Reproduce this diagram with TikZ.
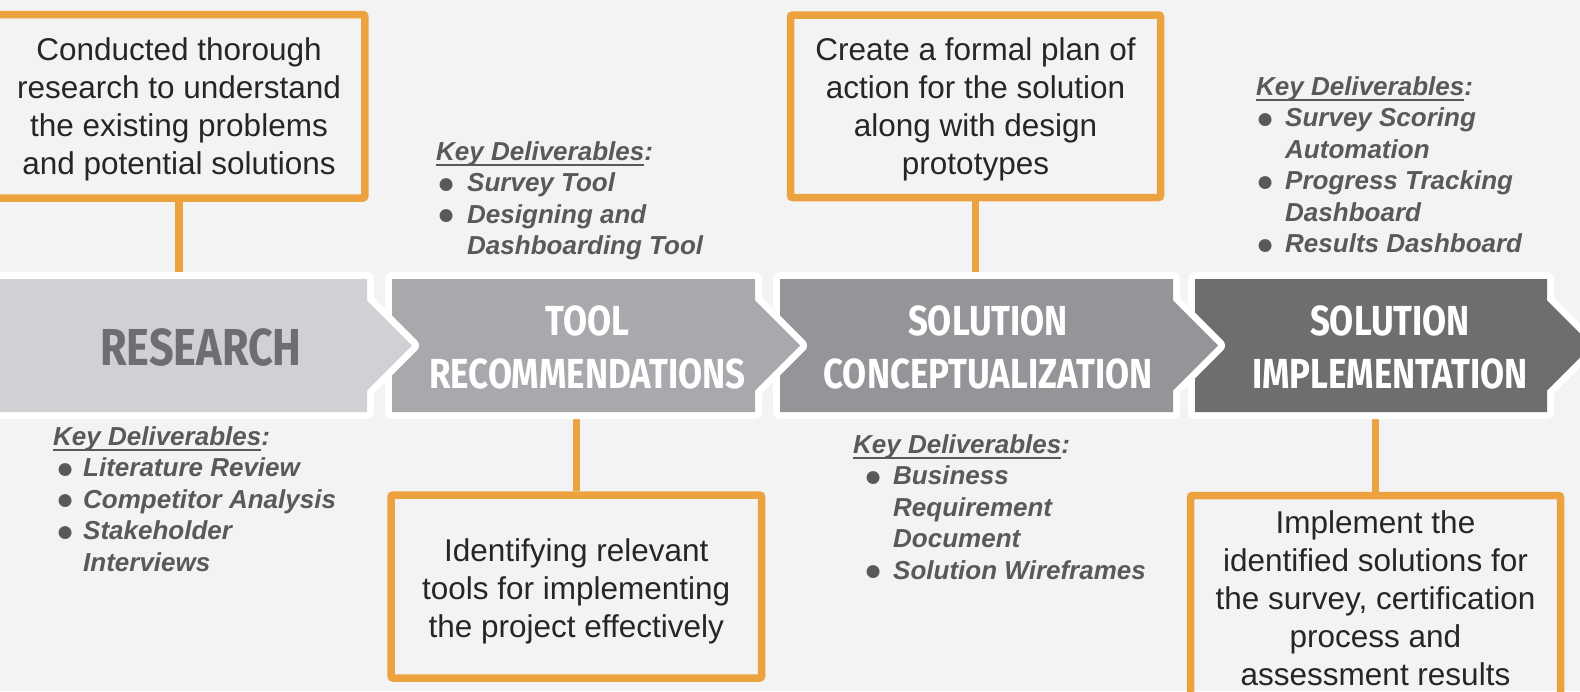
\documentclass[tikz,border=0pt]{standalone}
\usepackage{fontspec}
\setmainfont{Liberation Sans}
\newfontfamily\chevfont[FakeStretch=0.83]{Fira Sans}
\usetikzlibrary{backgrounds,calc}
\definecolor{bg}{RGB}{243,243,243}
\definecolor{org}{RGB}{237,162,64}
\definecolor{cA}{RGB}{208,209,212}
\definecolor{cB}{RGB}{167,169,172}
\definecolor{cC}{RGB}{147,149,152}
\definecolor{cD}{RGB}{109,110,112}
\definecolor{deltxt}{RGB}{89,89,89}
\definecolor{bodytxt}{RGB}{38,38,38}
\newcommand\dellines[1]{\vtop{\baselineskip=31.5pt\lineskiplimit=-100pt\halign{##\hfil\cr#1\crcr}}}
\newcommand\keyul{\setbox0\hbox{Key Deliverables}\rlap{\rule[-6pt]{\wd0}{2.2pt}}\box0:}
\newcommand\dbul[2]{\rlap{\hspace*{#1}\raisebox{-1.5pt}{\fontsize{30pt}{31.5pt}\selectfont\mdseries\upshape ●}}\hspace*{#2}}
\newcommand\chevpoly[3]{%
  \draw[white, line width=14pt, line join=round] (#1,279) -- (#2,279) -- (#2,300.5) -- ($(#2,345.5)+(45,0)$) -- (#2,390.5) -- (#2,412) -- (#1,412) -- cycle;
  \fill[#3] (#1,279) -- (#2,279) -- (#2,300.5) -- ($(#2,345.5)+(45,0)$) -- (#2,390.5) -- (#2,412) -- (#1,412) -- cycle;}
\begin{document}
\begin{tikzpicture}[x=1pt,y=-1pt,
  obox/.style={draw=org, line width=7.5pt, rounded corners=2pt, align=center, text=bodytxt,
    font=\fontsize{31.5pt}{38pt}\selectfont, inner sep=0pt},
  conn/.style={draw=org, line width=7.5pt},
  chevlab/.style={font=\chevfont\bfseries\fontsize{42pt}{53pt}\selectfont, text=white, align=center, inner sep=0pt},
  dlv/.style={anchor=base west, inner sep=0pt, text=deltxt, font=\fontsize{26pt}{31.5pt}\selectfont\bfseries\itshape},
]
\useasboundingbox (0,0) rectangle (1580,691);

% orange boxes
\node[obox, minimum width=371.5pt, minimum height=183.5pt] (b1) at (179,106.25)
  {\rule{0pt}{30pt}Conducted thorough\\research to understand\\the existing problems\\and potential solutions};
\node[obox, minimum width=370.5pt, minimum height=183pt] (b2) at (576.25,586.5)
  {\rule{0pt}{33pt}Identifying relevant\\tools for implementing\\the project effectively};
\node[obox, minimum width=370pt, minimum height=182.5pt] (b3) at (975.5,106.25)
  {\rule{0pt}{30pt}Create a formal plan of\\action for the solution\\along with design\\prototypes};
\node[obox, minimum width=370pt, minimum height=205pt] (b4) at (1375.5,598)
  {Implement the\\identified solutions for\\the survey, certification\\process and\\assessment results};

% chevron labels
\node[chevlab, text=cD, font=\chevfont\bfseries\fontsize{52pt}{53pt}\selectfont] (c1) at (201,347) {RESEARCH};
\node[chevlab] (c2) at (587.5,347) {TOOL\\RECOMMENDATIONS};
\node[chevlab] (c3) at (988,347) {SOLUTION\\CONCEPTUALIZATION};
\node[chevlab] (c4) at (1390,347) {SOLUTION\\IMPLEMENTATION};

% deliverables
\node[dlv] (d1) at (53,445) {\dellines{\keyul\cr
  \dbul{3pt}{30pt}Literature Review\cr
  \dbul{3pt}{30pt}Competitor Analysis\cr
  \dbul{3pt}{30pt}Stakeholder\cr
  \hspace*{30pt}Interviews}};
\node[dlv] (d2) at (436,160) {\dellines{\keyul\cr
  \dbul{1pt}{31pt}Survey Tool\cr
  \dbul{1pt}{31pt}Designing and\cr
  \hspace*{31pt}Dashboarding Tool}};
\node[dlv] (d3) at (853,453) {\dellines{\keyul\cr
  \dbul{11pt}{40pt}Business\cr
  \hspace*{40pt}Requirement\cr
  \hspace*{40pt}Document\cr
  \dbul{11pt}{40pt}Solution Wireframes}};
\node[dlv] (d4) at (1256,95) {\dellines{\keyul\cr
  \dbul{0pt}{29pt}Survey Scoring\cr
  \hspace*{29pt}Automation\cr
  \dbul{0pt}{29pt}Progress Tracking\cr
  \hspace*{29pt}Dashboard\cr
  \dbul{0pt}{29pt}Results Dashboard}};

% connector ends on the chevrons
\coordinate (t1) at (179,279);
\coordinate (t2) at (576.25,412);
\coordinate (t3) at (975.5,279);
\coordinate (t4) at (1375.5,412);

\begin{pgfonlayer}{background}
  \fill[bg] (0,0) rectangle (1580,691);
  \draw[conn] (b1.south) -- (t1);
  \draw[conn] (b2.north) -- (t2);
  \draw[conn] (b3.south) -- (t3);
  \draw[conn] (b4.north) -- (t4);
  \chevpoly{1195}{1547}{cD}
  \chevpoly{780}{1173}{cC}
  \chevpoly{392}{755}{cB}
  \chevpoly{-20}{367}{cA}
\end{pgfonlayer}
\end{tikzpicture}
\end{document}
